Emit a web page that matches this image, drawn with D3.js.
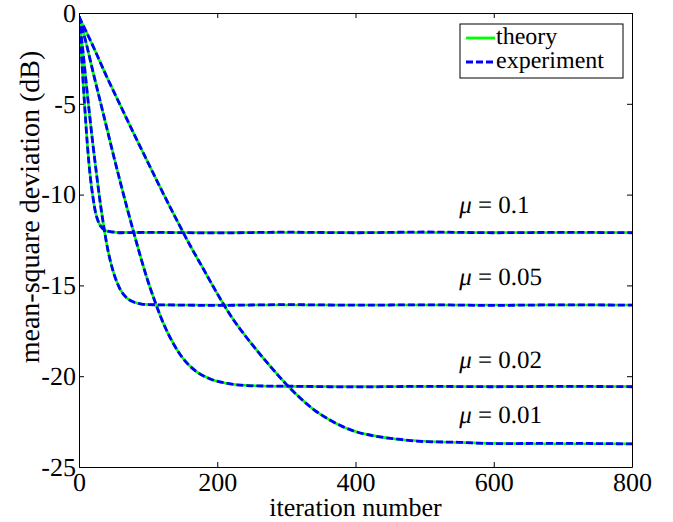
<!DOCTYPE html>
<html>
<head>
<meta charset="utf-8">
<script src="https://cdn.jsdelivr.net/npm/d3@7"></script>
<style>
  body { margin: 0; background: #fff; }
  svg text { text-rendering: geometricPrecision; }
</style>
</head>
<body>
<div id="chart"></div>
<script>
// Values (iteration, dB)
const iters01 = [0, 4, 8, 12, 16, 20, 24, 28, 32, 36, 40, 50, 60, 100, 200, 300, 400, 500, 600, 700, 800];
const theory01 = [-0.2, -2.6, -5.0, -7.2, -8.9, -10.1, -11.0, -11.5, -11.77, -11.93, -12.0, -12.07, -12.08, -12.09, -12.09, -12.09, -12.09, -12.09, -12.09, -12.09, -12.09];
const exper01 = [-0.2, -2.6, -5.0, -7.2, -8.9, -10.1, -11.0, -11.5, -11.77, -11.93, -12.0, -12.06, -12.1, -12.08, -12.11, -12.07, -12.1, -12.06, -12.1, -12.08, -12.1];

const iters005 = [0, 5, 10, 15, 20, 25, 30, 35, 40, 45, 50, 60, 70, 80, 90, 100, 120, 200, 300, 400, 500, 600, 700, 800];
const theory005 = [-0.2, -1.85, -3.7, -5.5, -7.2, -8.75, -10.25, -11.55, -12.7, -13.6, -14.3, -15.25, -15.72, -15.93, -16.02, -16.05, -16.08, -16.08, -16.08, -16.08, -16.08, -16.08, -16.08, -16.08];
const exper005 = [-0.2, -1.85, -3.7, -5.5, -7.2, -8.75, -10.25, -11.55, -12.7, -13.6, -14.3, -15.25, -15.72, -15.93, -16.03, -16.06, -16.07, -16.1, -16.06, -16.09, -16.07, -16.1, -16.07, -16.09];

const iters002 = [0, 10, 20, 30, 40, 50, 60, 70, 80, 90, 100, 110, 120, 135, 150, 170, 190, 215, 250, 300, 400, 500, 600, 700, 800];
const theory002 = [-0.2, -1.6, -3.2, -4.75, -6.3, -7.85, -9.35, -10.8, -12.2, -13.55, -14.8, -15.9, -16.9, -18.1, -19.0, -19.75, -20.15, -20.4, -20.52, -20.56, -20.57, -20.57, -20.57, -20.57, -20.57];
const exper002 = [-0.2, -1.6, -3.2, -4.75, -6.3, -7.85, -9.35, -10.8, -12.2, -13.55, -14.8, -15.9, -16.9, -18.1, -19.0, -19.75, -20.15, -20.4, -20.53, -20.55, -20.59, -20.56, -20.58, -20.56, -20.58];

const iters001 = [0, 20, 40, 60, 80, 100, 120, 140, 160, 180, 200, 220, 240, 260, 280, 300, 320, 340, 360, 380, 400, 430, 460, 500, 550, 600, 700, 800];
const theory001 = [-0.2, -1.8, -3.5, -5.1, -6.7, -8.25, -9.8, -11.3, -12.75, -14.1, -15.45, -16.7, -17.75, -18.7, -19.6, -20.45, -21.2, -21.85, -22.35, -22.75, -23.05, -23.3, -23.47, -23.58, -23.65, -23.7, -23.72, -23.72];
const exper001 = [-0.2, -1.8, -3.5, -5.1, -6.7, -8.25, -9.8, -11.3, -12.75, -14.1, -15.45, -16.7, -17.75, -18.7, -19.6, -20.45, -21.2, -21.85, -22.35, -22.75, -23.05, -23.31, -23.46, -23.6, -23.64, -23.71, -23.7, -23.73];

const muLabels = ["0.1", "0.05", "0.02", "0.01"];
const muLabelLevels = [-11.0, -15.0, -19.55, -22.6];

const xTicks = [0, 200, 400, 600, 800];
const yTicks = [0, -5, -10, -15, -20, -25];

const curves = [
    { it: iters01, th: theory01, ex: exper01 },
    { it: iters005, th: theory005, ex: exper005 },
    { it: iters002, th: theory002, ex: exper002 },
    { it: iters001, th: theory001, ex: exper001 }
];

// Canvas
const width = 673;
const height = 522;
const pLeft = 79, pRight = 632, pTop = 13, pBottom = 467;
const serif = "Liberation Serif";

const svg = d3.select("#chart")
    .append("svg")
    .attr("width", width)
    .attr("height", height)
    .attr("text-rendering", "geometricPrecision");

const x = d3.scaleLinear().domain([0, 800]).range([pLeft, pRight]);
const y = d3.scaleLinear().domain([-25, 0]).range([pBottom, pTop]);

const line = d3.line()
    .x(d => x(d[0]))
    .y(d => y(d[1]))
    .curve(d3.curveMonotoneX);

// Clip to plot box
svg.append("clipPath").attr("id", "clip")
    .append("rect")
    .attr("x", pLeft).attr("y", pTop)
    .attr("width", pRight - pLeft).attr("height", pBottom - pTop);

const plot = svg.append("g").attr("clip-path", "url(#clip)");

// Theory (solid green) then experiment (dashed blue) on top
curves.forEach(c => {
    plot.append("path")
        .datum(c.it.map((v, i) => [v, c.th[i]]))
        .attr("fill", "none")
        .attr("stroke", "#00ff00")
        .attr("stroke-width", 2.6)
        .attr("d", line);
});
curves.forEach(c => {
    plot.append("path")
        .datum(c.it.map((v, i) => [v, c.ex[i]]))
        .attr("fill", "none")
        .attr("stroke", "#0000ff")
        .attr("stroke-width", 2.8)
        .attr("stroke-dasharray", "7,3")
        .attr("d", line);
});

// Axes (ticks pointing inward on all four sides)
const fontSize = 26;
svg.append("g")
    .attr("transform", `translate(0,${pBottom})`)
    .call(d3.axisBottom(x).tickValues(xTicks).tickFormat(d => String(d))
        .tickSize(-5).tickSizeOuter(0).tickPadding(6));
svg.append("g")
    .attr("transform", `translate(${pLeft},0)`)
    .call(d3.axisLeft(y).tickValues(yTicks).tickFormat(d => String(d))
        .tickSize(-5).tickSizeOuter(0).tickPadding(3));
svg.append("g")
    .attr("transform", `translate(0,${pTop})`)
    .call(d3.axisTop(x).tickValues(xTicks).tickFormat("").tickSize(-5).tickSizeOuter(0));
svg.append("g")
    .attr("transform", `translate(${pRight},0)`)
    .call(d3.axisRight(y).tickValues(yTicks).tickFormat("").tickSize(-5).tickSizeOuter(0));

svg.selectAll("g").attr("font-family", serif);
svg.selectAll(".tick text")
    .attr("font-size", fontSize)
    .attr("fill", "#000");
svg.selectAll(".domain, .tick line").attr("stroke", "#000");

// Axis labels
svg.append("text")
    .attr("x", (pLeft + pRight) / 2)
    .attr("y", 516)
    .attr("text-anchor", "middle")
    .attr("font-family", serif)
    .attr("font-size", fontSize)
    .text("iteration number");

svg.append("text")
    .attr("transform", "translate(39,207) rotate(-90)")
    .attr("text-anchor", "middle")
    .attr("font-family", serif)
    .attr("font-size", 28)
    .text("mean-square deviation (dB)");

// mu annotations
const ann = svg.append("g");
muLabels.forEach((m, i) => {
    const t = ann.append("text")
        .attr("x", x(550))
        .attr("y", y(muLabelLevels[i]))
        .attr("font-family", serif)
        .attr("font-size", 25);
    t.append("tspan").attr("font-style", "italic").text("μ");
    t.append("tspan").text(" = " + m);
});

// Legend
const legend = svg.append("g");
legend.append("rect")
    .attr("x", 460).attr("y", 24)
    .attr("width", 163).attr("height", 54)
    .attr("fill", "#fff")
    .attr("stroke", "#000")
    .attr("stroke-width", 1);

const legendItems = [
    { label: "theory", color: "#00ff00", dash: null, yy: 38 },
    { label: "experiment", color: "#0000ff", dash: "7,3", yy: 62 }
];
legendItems.forEach(d => {
    legend.append("line")
        .attr("x1", 466).attr("x2", 495)
        .attr("y1", d.yy).attr("y2", d.yy)
        .attr("stroke", d.color)
        .attr("stroke-width", 2.8)
        .attr("stroke-dasharray", d.dash);
    legend.append("text")
        .attr("x", 496)
        .attr("y", d.yy + 6)
        .attr("font-family", serif)
        .attr("font-size", 24)
        .text(d.label);
});
</script>
</body>
</html>
